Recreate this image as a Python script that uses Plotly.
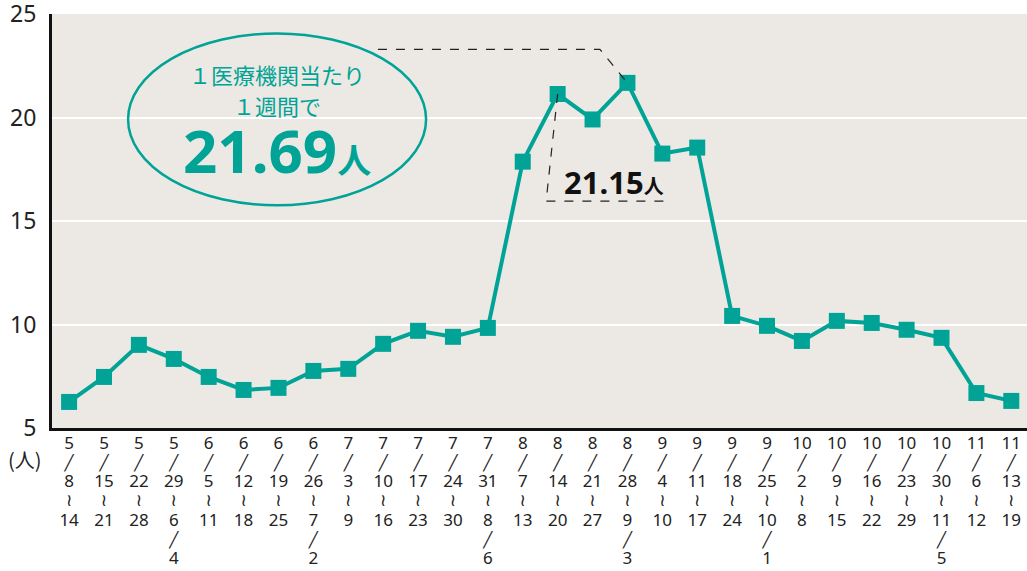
import plotly.graph_objects as go

months_start = [5,5,5,5,6,6,6,6,7,7,7,7,7,8,8,8,8,9,9,9,9,10,10,10,10,10,11,11]
days_start   = [8,15,22,29,5,12,19,26,3,10,17,24,31,7,14,21,28,4,11,18,25,2,9,16,23,30,6,13]
days_end     = [14,21,28,6,11,18,25,7,9,16,23,30,8,13,20,27,9,10,17,24,10,8,15,22,29,11,12,19]
end_month    = [None,None,None,4,None,None,None,2,None,None,None,None,6,None,None,None,3,None,None,None,1,None,None,None,None,5,None,None]
values = [6.26,7.47,9.02,8.34,7.47,6.84,6.94,7.76,7.86,9.07,9.70,9.41,9.84,17.88,
          21.15,19.92,21.69,18.27,18.56,10.42,9.94,9.21,10.18,10.08,9.75,9.36,6.69,6.31]
y_ticks = [5,10,15,20,25]

TEAL = "#00A396"
SL = "<span style='font-family:DejaVu Sans;font-size:15px'>╱</span>"
WV = "<span style='font-family:DejaVu Sans;font-size:17px'>≀</span>"


def num(v):
    return f"<span style='font-size:17px'>{v}</span>"


labels = []
for m, s, e, em in zip(months_start, days_start, days_end, end_month):
    t = f"{num(m)}<br>{SL}<br>{num(s)}<br>{WV}<br>{num(e)}"
    if em is not None:
        t += f"<br>{SL}<br>{num(em)}"
    labels.append(t)

xs = list(range(len(values)))
fig = go.Figure()
fig.add_trace(go.Scatter(x=xs, y=values, mode="lines+markers",
                         line=dict(color=TEAL, width=4),
                         marker=dict(symbol="square", size=16, color=TEAL),
                         hoverinfo="skip", showlegend=False))

fig.update_layout(
    width=1027, height=571,
    margin=dict(l=52, r=0, t=14, b=143),
    paper_bgcolor="white", plot_bgcolor="#ECE9E4",
    font=dict(family="Noto Sans, Noto Sans CJK JP", color="#222"),
    xaxis=dict(range=[-0.49, 27.45], tickvals=xs, ticktext=labels, automargin=False,
               showgrid=False, zeroline=False, showline=True, linecolor="#111", linewidth=3,
               ticks="", tickfont=dict(size=14.8, color="#222"), fixedrange=True),
    yaxis=dict(range=[5, 25.02], tickvals=y_ticks, showgrid=True, gridcolor="white", gridwidth=2,
               zeroline=False, showline=True, linecolor="#111", linewidth=3, ticks="", automargin=False,
               ticklabeloverflow="allow",
               tickfont=dict(size=23, color="#222"), ticklabelstandoff=8, fixedrange=True),
)

# ellipse highlight
fig.add_shape(type="circle", xref="x", yref="y", x0=1.69, x1=10.23, y0=15.77, y1=24.08,
              line=dict(color=TEAL, width=2.5), fillcolor="rgba(0,0,0,0)")
fig.add_annotation(x=5.96, y=22.1, xref="x", yref="y", text="１医療機関当たり", showarrow=False,
                   font=dict(size=22, color=TEAL, family="Noto Sans CJK JP"))
fig.add_annotation(x=5.96, y=20.6, xref="x", yref="y", text="１週間で", showarrow=False,
                   font=dict(size=22, color=TEAL, family="Noto Sans CJK JP"))
fig.add_annotation(x=5.96, y=18.45, xref="x", yref="y",
                   text="<b>21.69<span style='font-size:34px'>人</span></b>", showarrow=False,
                   font=dict(size=60, color=TEAL, family="Noto Sans, Noto Sans CJK JP"))

# leader lines
dash = dict(color="#222", width=1.2, dash="dash")
fig.add_shape(type="path", xref="x", yref="y",
              path=f"M 8.85 23.31 L 15.21 23.31 L 16 {values[16]}", line=dash)
fig.add_shape(type="path", xref="x", yref="y",
              path=f"M 14 {values[14]} L 13.67 15.97 L 17.16 15.97", line=dash)
fig.add_annotation(x=15.62, y=16.9, xref="x", yref="y",
                   text="<b>21.15<span style='font-size:20px'>人</span></b>", showarrow=False,
                   font=dict(size=31, color="#111", family="Noto Sans, Noto Sans CJK JP"))

fig.add_annotation(x=-0.028, y=-0.075, xref="paper", yref="paper", xanchor="center", yanchor="middle",
                   text="(人)", showarrow=False,
                   font=dict(size=20, color="#222", family="Noto Sans CJK JP"))

fig.write_html("out.html", config={"displayModeBar": False},
               post_script="document.body.style.margin='0';")
